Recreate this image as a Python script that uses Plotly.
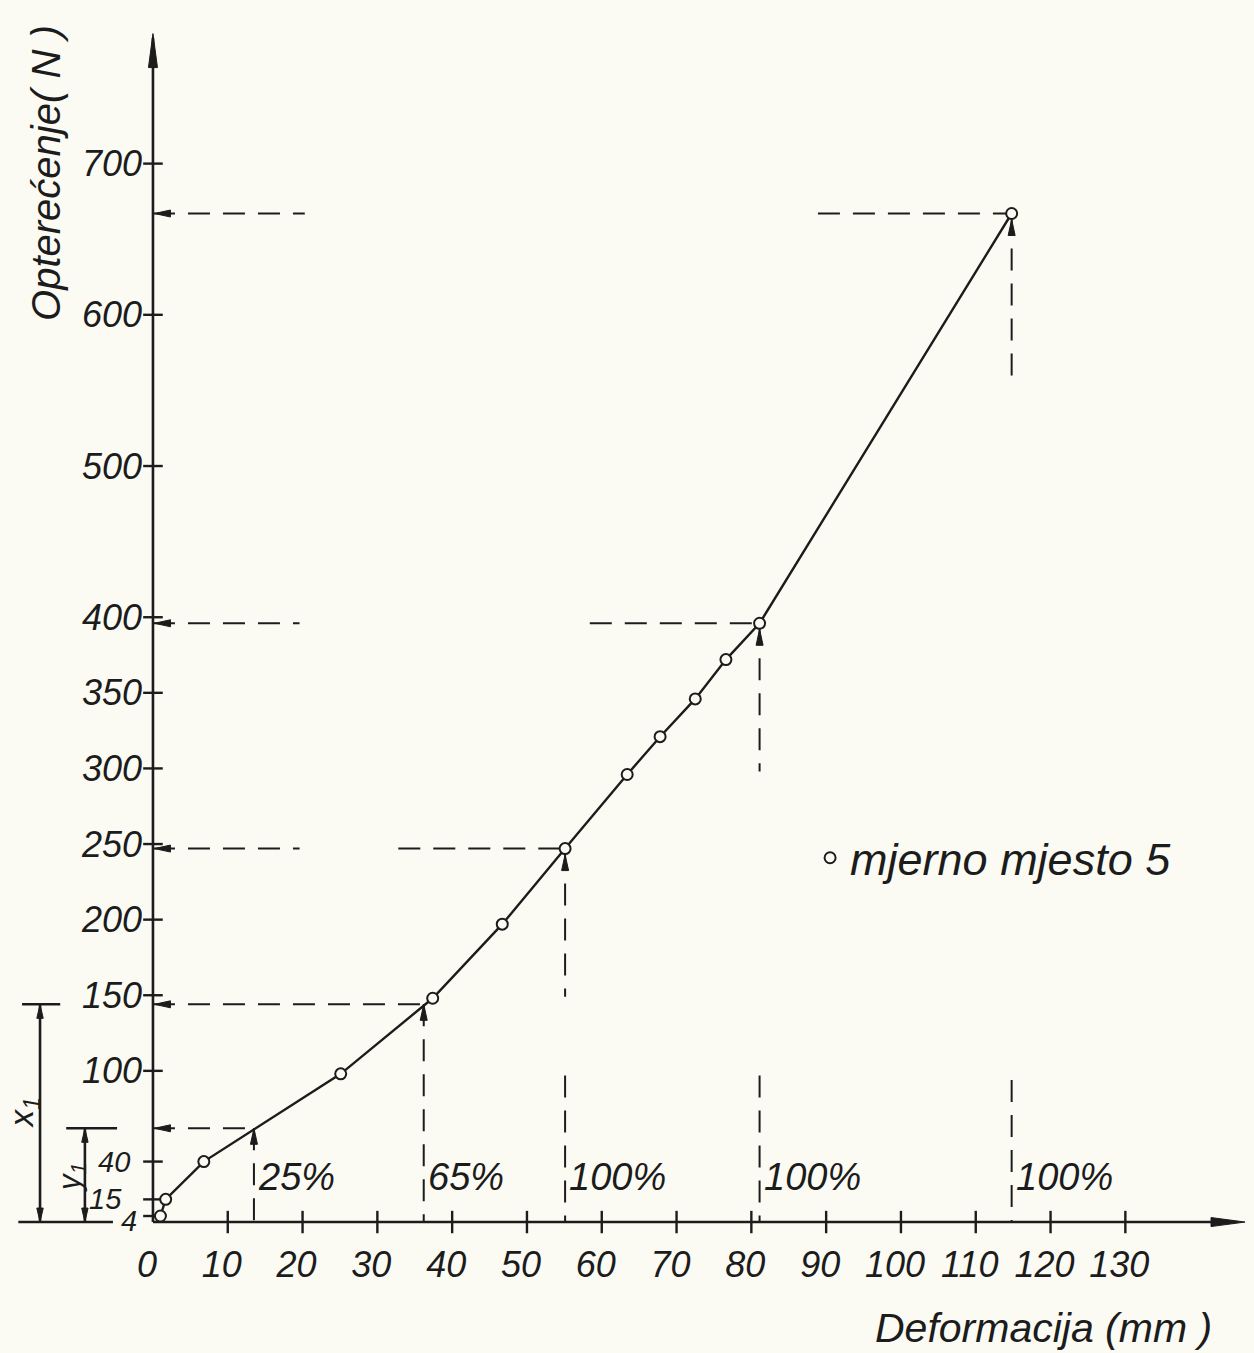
import plotly.graph_objects as go

# Measured load-deformation pairs (measuring point 5)
deformacija = [1.0, 1.7, 6.8, 25.1, 37.4, 46.7, 55.1, 63.4, 67.8, 72.5, 76.6, 81.1, 114.8]
opterecenje = [4, 15, 40, 98, 148, 197, 247, 296, 321, 346, 372, 396, 667]

x_ticks = [0, 10, 20, 30, 40, 50, 60, 70, 80, 90, 100, 110, 120, 130]
y_ticks = [4, 15, 40, 100, 150, 200, 250, 300, 350, 400, 500, 600, 700]
# low-load ticks carry smaller labels set a little apart from the axis
y_small_ticks = [4, 15, 40]
y_small_shift = [(-14, -5), (-29, 0), (-21, 0)]

# Reading guides: deformation, load level and percentage label
guide_x = [13.5, 36.2, 55.1, 81.1, 114.8]
guide_y = [62, 144, 247, 396, 667]
guide_label = ["25%", "65%", "100%", "100%", "100%"]

# Guide line extents (deformation where the axis-side dash ends, where the
# point-side dash starts, load where the drop line stops, top of the foot stub)
guide_h_end = [13.5, 36.2, 19.6, 19.6, 20.3]
guide_h2_start = [None, None, 32.8, 58.4, 88.9]
guide_v_stop = [0, 0, 149, 298, 557]
guide_v_stub = [None, None, 97, 97, 94]
guide_has_point = [False, False, True, True, True]

W, H = 1254, 1353
X0, X1 = -20.45, 147.2
Y0, Y1 = -86.6, 808.2
PX_X = W / (X1 - X0)
PX_Y = H / (Y1 - Y0)
X_END, Y_END = 146.0, 786.0

INK = "#1c1c1c"
PAPER = "#fbfbf4"
FONT = "Liberation Sans"


def arrow(tx, ty, dx, dy, length=16, half=3.5):
    """Thin filled arrowhead with its tip at (tx, ty), pointing along (dx, dy) in screen space."""
    bx = tx - dx * length / PX_X
    by = ty - dy * length / PX_Y
    nx, ny = -dy, dx
    xs = [tx, bx + nx * half / PX_X, bx - nx * half / PX_X, tx, None]
    ys = [ty, by + ny * half / PX_Y, by - ny * half / PX_Y, ty, None]
    return xs, ys


fig = go.Figure()

# dashed reading guides
dx_, dy_ = [], []
for i, (gx, gy) in enumerate(zip(guide_x, guide_y)):
    dx_ += [0, guide_h_end[i], None]
    dy_ += [gy, gy, None]
    if guide_h2_start[i] is not None:
        dx_ += [guide_h2_start[i], gx, None]
        dy_ += [gy, gy, None]
    dx_ += [gx, gx, None]
    dy_ += [gy, guide_v_stop[i], None]
    if guide_v_stub[i] is not None:
        dx_ += [gx, gx, None]
        dy_ += [guide_v_stub[i], 0, None]
fig.add_trace(go.Scatter(x=dx_, y=dy_, mode="lines", hoverinfo="skip", showlegend=False,
                         line=dict(color=INK, width=2, dash="22px,13px")))

# load-deformation curve
fig.add_trace(go.Scatter(x=deformacija, y=opterecenje, mode="lines", hoverinfo="skip",
                         showlegend=False, line=dict(color=INK, width=2.4)))

# axes and dimension lines
lx = [0, X_END - 3, None, 0, 0, None]
ly = [0, 0, None, 0, Y_END - 3, None]
# x1 / y1 dimension marks
lx += [-15.1, -15.1, None, -17.5, -12.4, None, -9.1, -9.1, None, -11.6, -4.8, None, -18, -5.35, None]
ly += [0, guide_y[1], None, guide_y[1], guide_y[1], None, 0, guide_y[0], None,
       guide_y[0], guide_y[0], None, 0, 0, None]
fig.add_trace(go.Scatter(x=lx, y=ly, mode="lines", hoverinfo="skip", showlegend=False,
                         line=dict(color=INK, width=2.6)))

# arrowheads
ax_, ay_ = [], []
for xs, ys in [arrow(X_END, 0, 1, 0, 34, 4.5), arrow(0, Y_END, 0, 1, 34, 4.5)]:
    ax_ += xs
    ay_ += ys
for i, (gx, gy) in enumerate(zip(guide_x, guide_y)):
    xs, ys = arrow(0.2, gy, -1, 0, 16, 3.5)
    ax_ += xs
    ay_ += ys
    tip = gy - (6 / PX_Y if guide_has_point[i] else 0)
    xs, ys = arrow(gx, tip, 0, 1, 16, 3.5)
    ax_ += xs
    ay_ += ys
for ux, top in [(-15.1, guide_y[1]), (-9.1, guide_y[0])]:
    for xs, ys in [arrow(ux, top, 0, 1, 14, 3.2), arrow(ux, 0, 0, -1, 14, 3.2)]:
        ax_ += xs
        ay_ += ys
fig.add_trace(go.Scatter(x=ax_, y=ay_, mode="lines", fill="toself", fillcolor=INK,
                         hoverinfo="skip", showlegend=False, line=dict(color=INK, width=1)))

# tick marks crossing the axes
fig.add_trace(go.Scatter(x=x_ticks[1:], y=[0] * (len(x_ticks) - 1), mode="markers",
                         hoverinfo="skip", showlegend=False,
                         marker=dict(symbol="line-ns", size=16, line=dict(color=INK, width=2.4))))
fig.add_trace(go.Scatter(x=[0] * len(y_ticks), y=y_ticks, mode="markers",
                         hoverinfo="skip", showlegend=False,
                         marker=dict(symbol="line-ew", size=14, line=dict(color=INK, width=2.4))))

# measured points
fig.add_trace(go.Scatter(x=deformacija, y=opterecenje, mode="markers", name="mjerno mjesto 5",
                         marker=dict(symbol="circle", size=11, color=PAPER,
                                     line=dict(color=INK, width=2))))

# percentage labels
for gx, lab in zip(guide_x, guide_label):
    fig.add_annotation(x=gx, y=30, text=lab, showarrow=False, xanchor="left", yanchor="middle",
                       xshift=2, font=dict(family=FONT, size=38, color=INK, style="italic"))

# labels of the low-load ticks
for v, (sx, sy) in zip(y_small_ticks, y_small_shift):
    fig.add_annotation(x=0, y=v, text=str(v), showarrow=False, xanchor="right", yanchor="middle",
                       xshift=sx, yshift=sy,
                       font=dict(family=FONT, size=29, color=INK, style="italic"))

fig.add_annotation(x=-17.2, y=72, text="x<sub>1</sub>", textangle=-90, showarrow=False,
                   font=dict(family=FONT, size=33, color=INK, style="italic"))
fig.add_annotation(x=-10.9, y=30, text="y<sub>1</sub>", textangle=-90, showarrow=False,
                   font=dict(family=FONT, size=31, color=INK, style="italic"))

fig.add_annotation(x=-14.4, y=694, text="Opterećenje( N )", textangle=-90, showarrow=False,
                   font=dict(family=FONT, size=40, color=INK, style="italic"))
fig.add_annotation(x=141.8, y=-70, text="Deformacija (mm )", showarrow=False, xanchor="right",
                   font=dict(family=FONT, size=41, color=INK, style="italic"))

big_ticks = [v for v in y_ticks if v not in y_small_ticks]

fig.update_layout(
    width=W, height=H,
    margin=dict(l=0, r=0, t=0, b=0),
    paper_bgcolor=PAPER, plot_bgcolor=PAPER,
    xaxis=dict(range=[X0, X1], anchor="free", position=-Y0 / (Y1 - Y0),
               tickvals=x_ticks, ticktext=[str(v) for v in x_ticks], ticks="",
               showline=False, showgrid=False, zeroline=False,
               ticklabelstandoff=18, ticklabelshift=-6,
               tickfont=dict(family=FONT, size=36, color=INK, style="italic")),
    yaxis=dict(range=[Y0, Y1], anchor="free", position=-X0 / (X1 - X0),
               tickvals=big_ticks, ticktext=[str(v) for v in big_ticks], ticks="",
               showline=False, showgrid=False, zeroline=False,
               ticklabelstandoff=11,
               tickfont=dict(family=FONT, size=36, color=INK, style="italic")),
    legend=dict(x=0.646, y=1 - 858 / H, xanchor="left", yanchor="middle",
                bgcolor="rgba(0,0,0,0)",
                font=dict(family=FONT, size=45, color=INK, style="italic")),
    showlegend=True,
)

fig.write_html("out.html")
